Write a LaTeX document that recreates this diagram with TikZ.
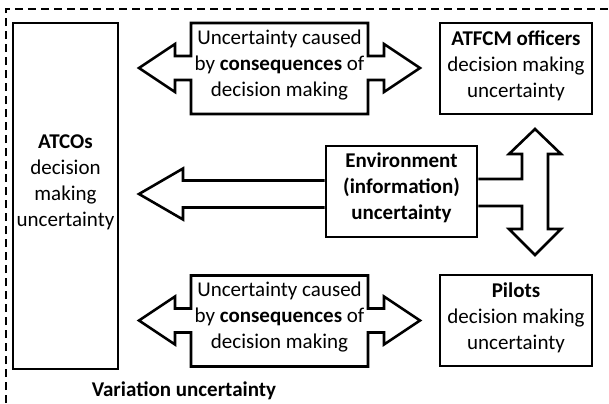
\documentclass[tikz,border=0pt]{standalone}
\usepackage{fontspec}
\setmainfont{Carlito}
\usetikzlibrary{positioning}

\begin{document}
\begin{tikzpicture}[x=0.5pt, y=-0.5pt,
  box/.style={draw, line width=1.3pt, inner sep=0pt},
  txt/.style={align=center, inner sep=0pt, font=\fontsize{10.5}{13}\selectfont},
  blockarrow/.style={draw, line width=1.3pt, line join=miter}]
\useasboundingbox (0,0) rectangle (609,403);

% Dashed frame
\draw[line width=1pt, dash pattern=on 4pt off 2.5pt] (6,403) -- (6,9) -- (609,9);

% Boxes
\node[box, minimum width=52.5pt, minimum height=173pt] (atcos) at (65.5,196) {};
\node[txt] (atcostxt) at ([yshift=7pt]atcos.center) {\textbf{ATCOs}\\decision\\making\\uncertainty};

\node[box, minimum width=76pt, minimum height=45.5pt] (atfcm) at (516,68.5) {};
\node[txt] (atfcmtxt) at ([yshift=1.5pt]atfcm.center) {\textbf{ATFCM officers}\\decision making\\uncertainty};

\node[box, minimum width=75.5pt, minimum height=45.5pt] (env) at (401.5,191.5) {};
\node[txt] (envtxt) at ([yshift=2pt]env.center) {\textbf{Environment}\\\textbf{(information)}\\\textbf{uncertainty}};

\node[box, minimum width=76pt, minimum height=45.5pt] (pilots) at (516,320.5) {};
\node[txt] (pilotstxt) at ([yshift=1.5pt]pilots.center) {\textbf{Pilots}\\decision making\\uncertainty};

% Double arrows (consequences of decision making)
\foreach \dy/\nm in {0/capttop, 252.5/captbot} {
  \begin{scope}[shift={(0,\dy)}]
    \draw[blockarrow] (191,23) -- (368,23) -- (368,56) -- (384,56) -- (384,44)
      -- (420,68) -- (384,92) -- (384,80) -- (368,80) -- (368,114) -- (191,114)
      -- (191,80) -- (175,80) -- (175,92) -- (139,68) -- (175,44) -- (175,56)
      -- (191,56) -- cycle;
    \node[txt] (\nm) at (279.5,65) {Uncertainty caused\\by \textbf{consequences} of\\decision making};
  \end{scope}
}

% Environment to ATCOs
\draw[blockarrow] (env.west |- 0,180.5) -- (183,180.5) -- (183,168.5) -- (139,194)
  -- (183,219.5) -- (183,207.5) -- (env.west |- 0,207.5);

% Environment to ATFCM officers and pilots
\draw[blockarrow] (env.east |- 0,179) -- (522,179) -- (522,154) -- (509,154)
  -- (535,129) -- (561,154) -- (548,154) -- (548,229) -- (561,229) -- (535,255)
  -- (509,229) -- (522,229) -- (522,206) -- (env.east |- 0,206);

\node[txt, font=\fontsize{10.5}{13}\selectfont\bfseries] (variation) at (184,391) {Variation uncertainty};
\end{tikzpicture}
\end{document}
